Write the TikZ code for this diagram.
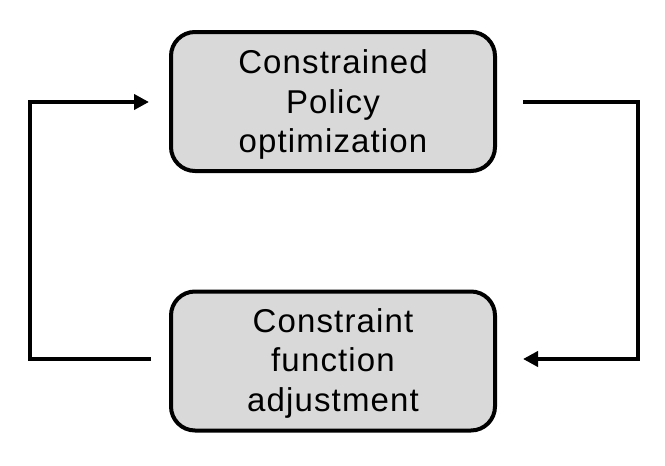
\documentclass[tikz,border=0pt]{standalone}
\usepackage{fontspec}
\setmainfont{Liberation Sans}[LetterSpace=3.5]
\usetikzlibrary{arrows.meta}
\begin{document}
\begin{tikzpicture}[x=1pt,y=-1pt,
  procbox/.style={draw=black, line width=4pt, fill=black!15, rounded corners=24pt,
    minimum width=324pt, minimum height=139pt, inner sep=0pt},
  boxtext/.style={align=center, inner sep=0pt, font=\fontsize{33}{39.5}\selectfont},
  conn/.style={line width=4pt, line cap=butt, line join=miter},
  tip/.style={-{Triangle[length=15pt,width=15pt]}}]
\useasboundingbox (0,0) rectangle (665,466);
\node[procbox] (top) at (333,101.5) {};
\node[boxtext] (toptext) at ([yshift=-3pt]top.center) {Constrained\\Policy\\optimization};
\node[procbox] (bot) at (333,361) {};
\node[boxtext] (bottext) at ([yshift=-2pt]bot.center) {Constraint\\function\\adjustment};
\coordinate (tl) at (30,102);
\coordinate (bl) at (30,359);
\coordinate (tr) at (638,102);
\coordinate (br) at (638,359);
\draw[conn, tip] ([xshift=-18pt]bot.west |- bl) -- (bl) -- (tl) -- ([xshift=-20pt]top.west |- tl);
\draw[conn, tip] ([xshift=26pt]top.east |- tr) -- (tr) -- (br) -- ([xshift=26pt]bot.east |- br);
\end{tikzpicture}
\end{document}
